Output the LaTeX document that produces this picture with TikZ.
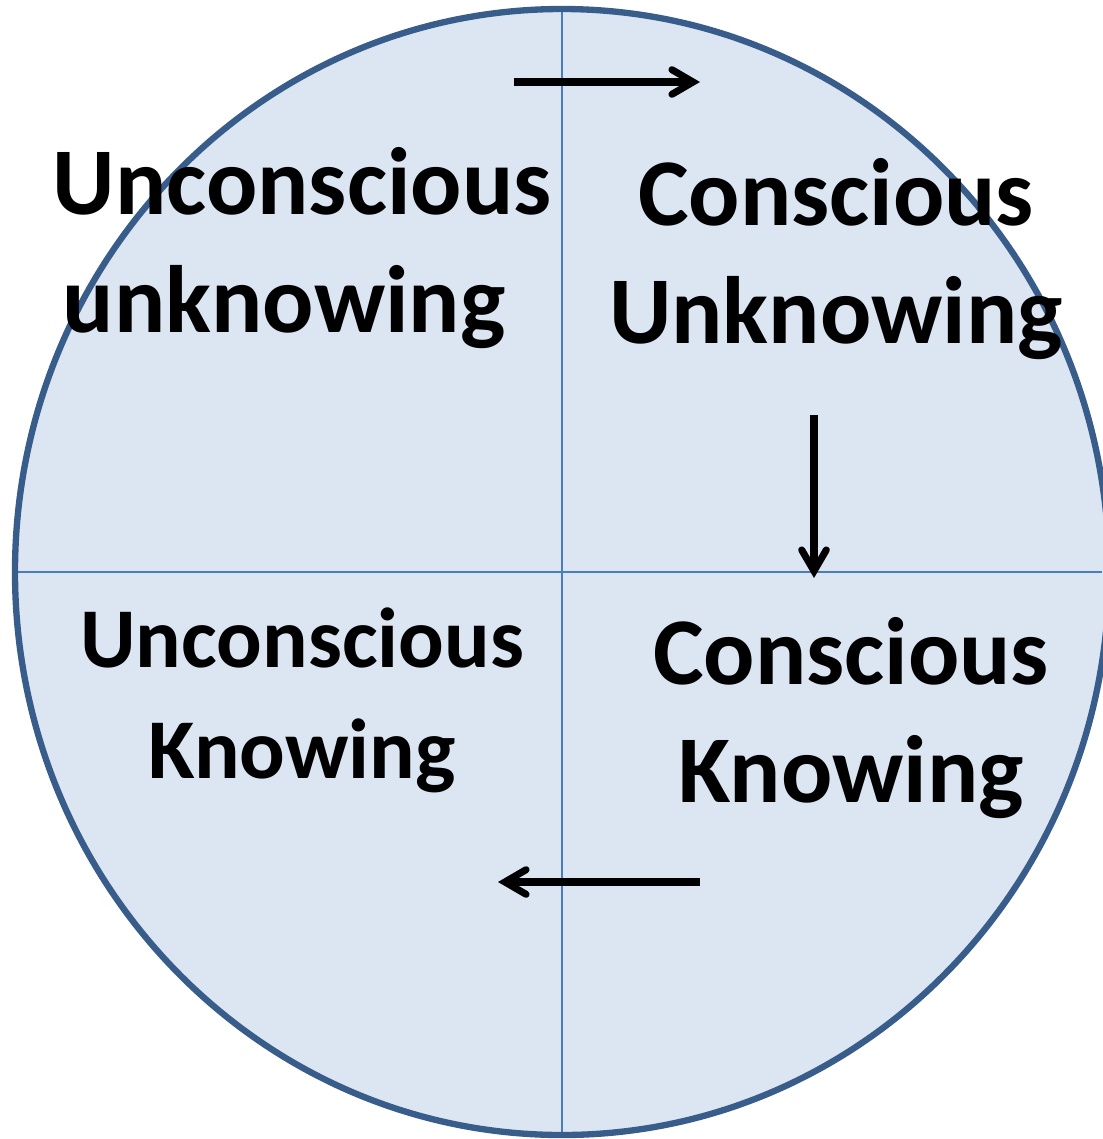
\documentclass[tikz,border=0pt]{standalone}
\usepackage{fontspec}
\setmainfont{Carlito}
\usetikzlibrary{arrows.meta}

\definecolor{discfill}{RGB}{220,230,242}
\definecolor{discedge}{RGB}{56,93,138}
\definecolor{axisblue}{RGB}{74,126,187}

\begin{document}
\begin{tikzpicture}[
    x=0.01cm, y=-0.01cm,
    every node/.style={inner sep=0pt, font=\bfseries},
    quadlabel/.style={font=\bfseries\fontsize{27.2}{33.5}\selectfont},
    quadsmall/.style={font=\bfseries\fontsize{24.2}{31.5}\selectfont},
    flow/.style={-{Straight Barb[length=6pt, width=7pt, line cap=round]}, line width=2pt, black},
    axis/.style={axisblue, line width=0.7pt},
]

% === Disc dimensions (pixel units) ===
\def\cx{562}     % centre x
\def\cy{572}     % centre y
\def\rx{547}     % horizontal radius
\def\ry{563}     % vertical radius

\useasboundingbox (0,0) rectangle (1102,1139);

% === Disc ===
\fill[discfill] (\cx,\cy) ellipse [x radius=\rx, y radius=\ry];

% === Quadrant axes ===
\draw[axis] (\cx,{\cy-\ry}) -- (\cx,{\cy+\ry});
\draw[axis] ({\cx-\rx},\cy) -- (1102,\cy);

% Disc outline on top of the axes
\draw[discedge, line width=1.8pt] (\cx,\cy) ellipse [x radius=\rx, y radius=\ry];

% === Quadrant labels (base = last line) ===
\node[quadlabel, align=left, anchor=base west] (uu) at (52,332) {Unconscious\\\hspace*{0.1cm}unknowing};
\node[quadlabel, align=center, anchor=base] (cu) at (836,343) {Conscious\\Unknowing};
\node[quadsmall, align=center, anchor=base] (uk) at (302,778) {Unconscious\\Knowing};
\node[quadlabel, align=center, anchor=base] (ck) at (851,802) {Conscious\\Knowing};

% === Flow arrows ===
\coordinate (topS) at (514,82);
\coordinate (topE) at (700,82);
\coordinate (midS) at (814,415);
\coordinate (midE) at (814,578);
\coordinate (lowS) at (700,882);
\coordinate (lowE) at (498,882);
\draw[flow] (topS) -- (topE);
\draw[flow] (midS) -- (midE);
\draw[flow] (lowS) -- (lowE);

\end{tikzpicture}
\end{document}
